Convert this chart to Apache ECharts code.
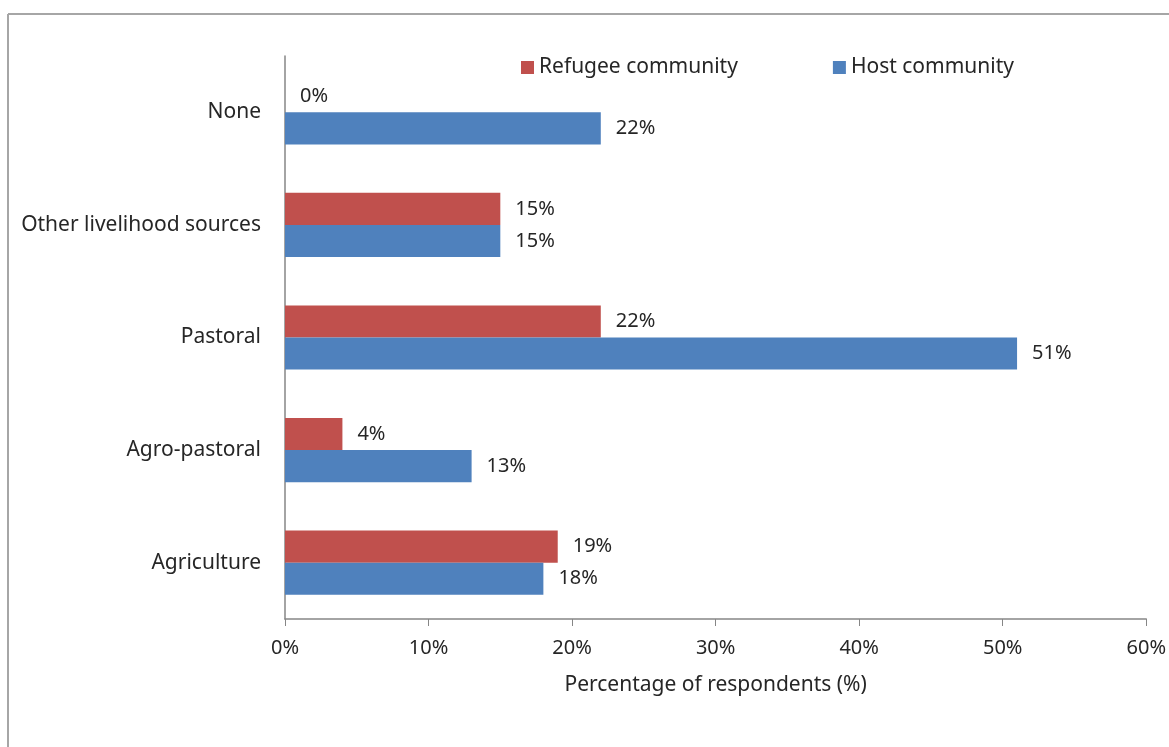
<!DOCTYPE html>
<html>
<head>
<meta charset="utf-8">
<script src="https://cdn.jsdelivr.net/npm/echarts@6/dist/echarts.min.js"></script>
<style>
  html, body { margin: 0; padding: 0; background: #fff; }
  #main { width: 1169px; height: 747px; }
</style>
</head>
<body>
<div id="main"></div>
<script>
// categories, bottom to top as drawn
var categories = ['Agriculture', 'Agro-pastoral', 'Pastoral', 'Other livelihood sources', 'None'];
var refugeeValues = [19, 4, 22, 15, 0];
var hostValues = [18, 13, 51, 15, 22];
var xTicks = [0, 10, 20, 30, 40, 50, 60];

var textColor = '#262626';
var fontFamily = '"Noto Sans", "Open Sans", sans-serif';

var chart = echarts.init(document.getElementById('main'), null, { renderer: 'canvas' });

var option = {
  animation: false,
  textStyle: { fontFamily: fontFamily, color: textColor },
  // frame of the chart area (top and left edges visible)
  graphic: [
    { type: 'line', shape: { x1: 8, y1: 14, x2: 1169, y2: 14 }, style: { stroke: '#a6a6a6', lineWidth: 2 } },
    { type: 'line', shape: { x1: 8, y1: 14, x2: 8, y2: 747 }, style: { stroke: '#a6a6a6', lineWidth: 2 } }
  ],
  legend: {
    data: ['Refugee community', 'Host community'],
    left: 516,
    top: 52,
    itemWidth: 13,
    itemHeight: 13,
    itemGap: 95,
    icon: 'rect',
    textStyle: { fontFamily: fontFamily, fontSize: 21, color: textColor }
  },
  grid: {
    left: 285,
    right: 22,
    top: 56,
    bottom: 128,
    containLabel: false
  },
  xAxis: {
    type: 'value',
    min: xTicks[0],
    max: xTicks[xTicks.length - 1],
    interval: 10,
    name: 'Percentage of respondents (%)',
    nameLocation: 'middle',
    nameGap: 56,
    nameTextStyle: { fontFamily: fontFamily, fontSize: 21, color: textColor },
    axisLine: { show: true, lineStyle: { color: '#868686', width: 1.5 } },
    axisTick: { show: true, length: 7, inside: false, lineStyle: { color: '#868686' } },
    axisLabel: {
      formatter: '{value}%',
      margin: 19,
      fontFamily: fontFamily,
      fontSize: 20,
      color: textColor
    },
    splitLine: { show: false }
  },
  yAxis: {
    type: 'category',
    data: categories,
    axisLine: { show: true, lineStyle: { color: '#868686', width: 1.5 } },
    axisTick: { show: false },
    axisLabel: {
      margin: 24,
      fontFamily: fontFamily,
      fontSize: 21,
      color: textColor
    },
    splitLine: { show: false }
  },
  series: [
    {
      name: 'Refugee community',
      type: 'bar',
      data: refugeeValues,
      barGap: '0%',
      barCategoryGap: '43%',
      itemStyle: { color: '#c0504d' },
      label: {
        show: true,
        position: 'right',
        distance: 15,
        formatter: '{c}%',
        fontFamily: fontFamily,
        fontSize: 20,
        color: textColor
      }
    },
    {
      name: 'Host community',
      type: 'bar',
      data: hostValues,
      barGap: '0%',
      barCategoryGap: '43%',
      itemStyle: { color: '#4f81bd' },
      label: {
        show: true,
        position: 'right',
        distance: 15,
        formatter: '{c}%',
        fontFamily: fontFamily,
        fontSize: 20,
        color: textColor
      }
    }
  ]
};

chart.setOption(option);
</script>
</body>
</html>
